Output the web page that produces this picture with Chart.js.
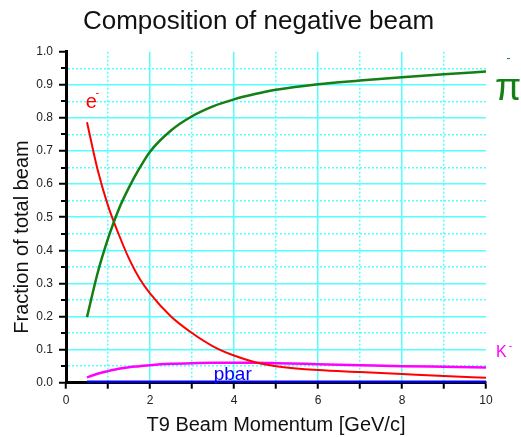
<!DOCTYPE html>
<html><head><meta charset="utf-8">
<script src="https://cdn.jsdelivr.net/npm/chart.js@4/dist/chart.umd.min.js"></script>
<style>html,body{margin:0;padding:0;background:#fff;overflow:hidden;}</style>
</head><body>
<canvas id="c" width="521" height="437"></canvas>
<script>
// ---- data ----
const momentum = [0.5, 0.75, 1, 1.25, 1.5, 1.75, 2, 2.5, 3, 3.5, 4, 4.5, 5, 6, 7, 8, 9, 10];
const piMinus  = [0.198, 0.33, 0.435, 0.522, 0.59, 0.648, 0.698, 0.762, 0.805, 0.835, 0.856, 0.872, 0.885, 0.902, 0.913, 0.923, 0.932, 0.94];
const electron = [0.787, 0.645, 0.535, 0.45, 0.375, 0.315, 0.27, 0.20, 0.15, 0.11, 0.082, 0.062, 0.05, 0.038, 0.032, 0.026, 0.02, 0.015];
const kMinus   = [0.016, 0.027, 0.035, 0.042, 0.047, 0.050, 0.053, 0.057, 0.059, 0.060, 0.060, 0.060, 0.059, 0.056, 0.053, 0.050, 0.048, 0.046];
const pbar     = [0.002, 0.002, 0.002, 0.002, 0.002, 0.002, 0.002, 0.002, 0.002, 0.002, 0.002, 0.002, 0.002, 0.002, 0.002, 0.002, 0.002, 0.002];
const seriesNames = ['π-', 'e-', 'K-', 'pbar'];
const titleText = 'Composition of negative beam';
const xTitle = 'T9 Beam Momentum [GeV/c]';
const yTitle = 'Fraction of total beam';

// ---- styles ----
const FONT = '"Liberation Sans", Arial, sans-serif';
const CYAN = '#55ffff';
const colors = ['#147f14', '#ff0000', '#ff00ff', '#0000ff'];
const widths = [2.5, 2, 2.5, 3];

// label placement (data coords of base text baseline-center, pixel offset of superscript)
const labelStyle = [
  {base: 'π', sup: '-', size: 38, supSize: 12, at: [10.524, 0.854], supOff: [0.5, -41]},
  {base: 'e', sup: '-', size: 20, supSize: 10, at: [0.603, 0.83], supOff: [6.2, -14.7]},
  {base: 'K', sup: '-', size: 16, supSize: 10, at: [10.364, 0.077], supOff: [9.2, -10.6]},
  {base: 'pbar', sup: '', size: 19, supSize: 10, at: [3.969, 0.0095], supOff: [0, 0]}
];

const toPts = ys => momentum.map((x, i) => ({x, y: ys[i]}));
const seriesValues = [piMinus, electron, kMinus, pbar];

const isMinorY = v => Math.round(v * 20) % 2 !== 0;
const isMinorX = v => Math.round(v) % 2 !== 0;

const extras = {
  id: 'extras',
  afterDraw(chart) {
    const {ctx, scales: {x, y}} = chart;
    ctx.save();
    // minor y ticks (short, outward)
    ctx.strokeStyle = '#000';
    ctx.lineWidth = 2;
    y.ticks.forEach(t => {
      if (isMinorY(t.value)) {
        const py = Math.round(y.getPixelForValue(t.value));
        ctx.beginPath();
        ctx.moveTo(x.left - 5, py);
        ctx.lineTo(x.left, py);
        ctx.stroke();
      }
    });
    // y axis title
    ctx.fillStyle = '#111';
    ctx.font = '20px ' + FONT;
    ctx.textAlign = 'center';
    ctx.textBaseline = 'middle';
    ctx.translate(22, 237);
    ctx.rotate(-Math.PI / 2);
    ctx.fillText(yTitle, 0, 0);
    ctx.restore();
    // series labels
    ctx.save();
    labelStyle.forEach((s, i) => {
      const px = x.getPixelForValue(s.at[0]);
      const py = y.getPixelForValue(s.at[1]);
      ctx.fillStyle = colors[i];
      ctx.font = s.size + 'px ' + FONT;
      ctx.textAlign = 'center';
      ctx.textBaseline = 'alphabetic';
      ctx.fillText(s.base, px, py);
      if (s.sup) {
        ctx.font = s.supSize + 'px ' + FONT;
        ctx.textBaseline = 'middle';
        ctx.fillText(s.sup, px + s.supOff[0], py + s.supOff[1]);
      }
    });
    ctx.restore();
  }
};

new Chart(document.getElementById('c'), {
  type: 'line',
  data: {
    datasets: seriesValues.map((vals, i) => ({
      label: seriesNames[i],
      data: toPts(vals),
      borderColor: colors[i],
      backgroundColor: colors[i],
      borderWidth: widths[i],
      pointRadius: 0,
      fill: false,
      cubicInterpolationMode: 'monotone'
    }))
  },
  options: {
    responsive: false,
    animation: false,
    devicePixelRatio: 1,
    layout: {padding: {left: 31, right: 35, top: 0, bottom: 0}},
    plugins: {
      legend: {display: false},
      tooltip: {enabled: false},
      title: {
        display: true, text: titleText, color: '#111',
        font: {family: FONT, size: 26, weight: 'normal'},
        padding: {top: 6, bottom: 14.5}
      }
    },
    scales: {
      x: {
        type: 'linear', min: 0, max: 10,
        afterFit(s) { s.height = 54.3; },
        ticks: {
          stepSize: 1, autoSkip: false, maxRotation: 0, padding: 5,
          color: '#222', font: {family: FONT, size: 12},
          callback: v => isMinorX(v) ? '' : String(v)
        },
        grid: {
          color: c => (c.tick && c.tick.value >= 10) ? 'rgba(0,0,0,0)' : CYAN,
          lineWidth: 1.5,
          tickColor: '#000', tickLength: 6, tickWidth: 2
        },
        border: {
          display: true, color: '#000', width: 3,
          dash: c => (c.tick && isMinorX(c.tick.value)) ? [2, 2] : []
        },
        title: {
          display: true, text: xTitle, color: '#111',
          font: {family: FONT, size: 20}, padding: {top: 0, bottom: 0}
        }
      },
      y: {
        type: 'linear', min: 0, max: 1,
        afterFit(s) { s.width = 35; },
        ticks: {
          stepSize: 0.05, autoSkip: false, padding: 6,
          color: '#222', font: {family: FONT, size: 12},
          callback: v => isMinorY(v) ? '' : (Math.round(v * 10) / 10).toFixed(1)
        },
        grid: {
          color: c => (c.tick && c.tick.value >= 0.999) ? 'rgba(0,0,0,0)' : CYAN,
          lineWidth: 1.5,
          tickColor: c => (c.tick && isMinorY(c.tick.value)) ? 'rgba(0,0,0,0)' : '#000',
          tickLength: 7, tickWidth: 2
        },
        border: {
          display: true, color: '#000', width: 3,
          dash: c => (c.tick && isMinorY(c.tick.value)) ? [2, 2] : []
        }
      }
    }
  },
  plugins: [extras]
});
</script>
</body></html>
